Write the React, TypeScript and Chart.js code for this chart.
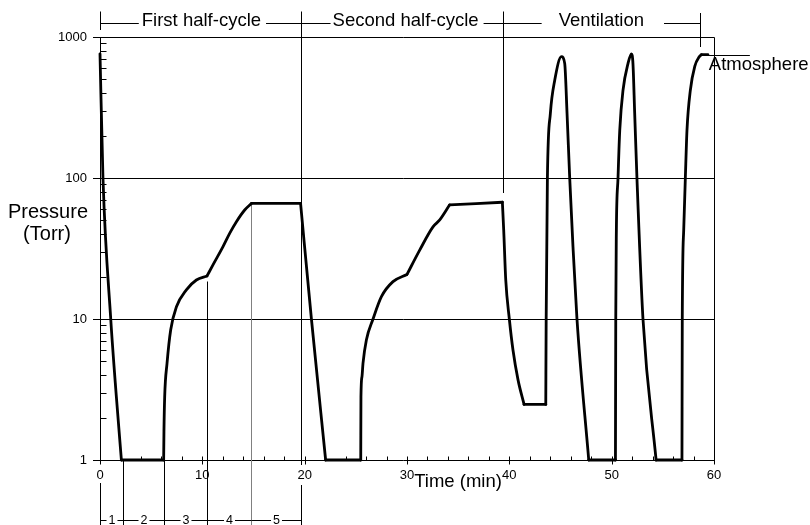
import React, { useEffect, useRef } from 'react';
import { Chart, registerables } from 'chart.js';

Chart.register(...registerables);

// ---- Data ----
const timeMin = [
  0, 0.29, 1.05, 1.6, 2.09,
  6.22, 6.25, 6.32, 6.55, 6.91, 7.47, 8.44, 9.42, 10.46,
  11.04, 12.02, 12.67, 13.33, 14.14, 14.8,
  19.6, 20.66, 22.05,
  25.48, 25.5, 25.6, 25.7, 26.03, 26.68, 27.5, 28.63, 30.0,
  31.24, 32.54, 33.2, 34.17, 39.32,
  39.45, 39.65, 40.0, 40.36, 40.85, 41.44, 43.56,
  43.6, 43.72, 44.01, 44.44, 45.09, 45.41, 45.64, 45.9, 46.22, 46.61, 47.76,
  50.37, 50.4, 50.46, 50.62, 50.79, 51.11, 51.6, 51.93, 52.08, 52.25, 52.47, 53.06, 54.34,
  56.87, 56.9, 57.04, 57.2, 57.36, 57.69, 58.12, 58.54, 58.77, 59.4,
];
const pressureTorr = [
  760, 100, 10, 2.8, 1,
  1, 1.6, 2.8, 4.85, 8.4, 12.2, 16.1, 18.9, 20.2,
  24.2, 32.6, 40.5, 49, 59.3, 66,
  66, 10, 1,
  1, 2.8, 3.9, 4.85, 7.1, 10, 14.4, 18.4, 20.7,
  30.8, 45, 50.4, 64.5, 67.3,
  42.8, 18.9, 10, 6.0, 3.7, 2.48, 2.48,
  10, 100, 287, 495, 725, 650, 287, 100, 32.6, 10, 1,
  1, 10, 42.8, 100, 218, 420, 650, 760, 650, 287, 100, 10, 1,
  1, 10, 42.8, 100, 218, 420, 620, 720, 750, 750,
];
// times where the trace has a sharp corner (the trace is smooth between them)
const cornerTimes = [2.09, 6.22, 10.46, 14.8, 19.6, 22.05, 25.48, 30.0, 34.17, 39.32, 41.44, 43.56, 47.76, 50.37, 54.34, 56.87, 58.77];

const xTicks = [0, 10, 20, 30, 40, 50, 60];
const xMinorStep = 2;
const yDecades = [1, 10, 100, 1000];

// stage annotations (minutes)
const stageLabels = ['First half-cycle', 'Second half-cycle', 'Ventilation'];
const stageBounds = [0, 19.6, 39.4, 58.6];
const stageCenters = [9.91, 29.86, 48.99];
const stageGaps = [[3, 5], [2, 5], [17, 20]];

// first half-cycle steps (minutes)
const stepLabels = ['1', '2', '3', '4', '5'];
const stepBounds = [0, 2.2, 6.3, 10.46, 14.8, 19.6];

const FONT = '"Liberation Sans", Arial, Helvetica, sans-serif';

function seg(ctx: CanvasRenderingContext2D, x1: number, y1: number, x2: number, y2: number) {
  ctx.beginPath();
  ctx.moveTo(x1, y1);
  ctx.lineTo(x2, y2);
  ctx.stroke();
}

function pressureAt(t: number): number {
  for (let i = 0; i < timeMin.length - 1; i++) {
    if (t >= timeMin[i] && t <= timeMin[i + 1]) {
      const span = timeMin[i + 1] - timeMin[i];
      if (span === 0) return pressureTorr[i + 1];
      const f = (t - timeMin[i]) / span;
      const l = Math.log10(pressureTorr[i]) * (1 - f) + Math.log10(pressureTorr[i + 1]) * f;
      return Math.pow(10, l);
    }
  }
  return pressureTorr[pressureTorr.length - 1];
}

function buildPieces() {
  const pieces: { x: number; y: number }[][] = [];
  let cur: { x: number; y: number }[] = [];
  timeMin.forEach((t, i) => {
    const p = { x: t, y: pressureTorr[i] };
    cur.push(p);
    if (cornerTimes.includes(t) && i < timeMin.length - 1) {
      pieces.push(cur);
      cur = [p];
    }
  });
  if (cur.length > 1) pieces.push(cur);
  return pieces;
}

const figurePlugin = {
  id: 'figureAnnotations',
  beforeDatasetsDraw(chart: any) {
    const { ctx, chartArea: a } = chart;
    const xs = chart.scales.x;
    const ys = chart.scales.y;
    const px = (v: number) => Math.round(xs.getPixelForValue(v)) + 0.5;
    const py = (v: number) => Math.round(ys.getPixelForValue(v)) + 0.5;
    const B = py(1);
    ctx.save();
    ctx.strokeStyle = '#000';
    ctx.lineWidth = 1;
    ctx.lineCap = 'butt';
    for (const d of yDecades) seg(ctx, a.left - 7, py(d), px(60), py(d));
    seg(ctx, px(0), py(1000), px(0), B);
    seg(ctx, px(60), py(1000), px(60), B);
    for (let i = 0; i < yDecades.length - 1; i++) {
      for (let m = 2; m <= 9; m++) {
        const v = yDecades[i] * m;
        seg(ctx, px(0), py(v), px(0) + 6, py(v));
      }
    }
    for (let t = 0; t <= 60; t += xMinorStep) {
      const major = xTicks.includes(t);
      seg(ctx, px(t), B - 4, px(t), major ? B + 4 : B);
    }
    seg(ctx, px(stepBounds[0]), 483, px(stepBounds[0]), 525);
    seg(ctx, px(stepBounds[1]), B, px(stepBounds[1]), 525);
    seg(ctx, px(stepBounds[2]), py(pressureAt(stepBounds[2])), px(stepBounds[2]), 525);
    seg(ctx, px(stepBounds[3]), py(pressureAt(stepBounds[3])) + 5, px(stepBounds[3]), 525);
    ctx.strokeStyle = '#808080';
    seg(ctx, px(stepBounds[4]), py(pressureAt(stepBounds[4])), px(stepBounds[4]), 525);
    ctx.strokeStyle = '#000';
    seg(ctx, px(stageBounds[0]), 11.5, px(stageBounds[0]), 30);
    seg(ctx, px(stageBounds[1]), 11.5, px(stageBounds[1]), 465);
    seg(ctx, px(stageBounds[1]), 485, px(stageBounds[1]), 525);
    seg(ctx, px(stageBounds[2]), 11.5, px(stageBounds[2]), 193);
    seg(ctx, px(stageBounds[3]), 13, px(stageBounds[3]), 47);
    ctx.restore();
  },
  afterDraw(chart: any) {
    const { ctx } = chart;
    const xs = chart.scales.x;
    const ys = chart.scales.y;
    const px = (v: number) => Math.round(xs.getPixelForValue(v)) + 0.5;
    ctx.save();
    ctx.fillStyle = '#000';
    ctx.strokeStyle = '#000';
    ctx.lineWidth = 1;
    ctx.font = `18.5px ${FONT}`;
    ctx.textAlign = 'center';
    ctx.textBaseline = 'alphabetic';
    const topY = 23.5;
    stageLabels.forEach((lab, i) => {
      const cx = xs.getPixelForValue(stageCenters[i]);
      const w = ctx.measureText(lab).width;
      ctx.fillText(lab, cx, 26);
      seg(ctx, px(stageBounds[i]), topY, cx - w / 2 - stageGaps[i][0], topY);
      seg(ctx, cx + w / 2 + stageGaps[i][1], topY, px(stageBounds[i + 1]), topY);
    });
    ctx.font = `12.5px ${FONT}`;
    ctx.textBaseline = 'middle';
    const rowY = 520.5;
    stepLabels.forEach((lab, i) => {
      const x1 = px(stepBounds[i]);
      const x2 = px(stepBounds[i + 1]);
      const cx = (x1 + x2) / 2;
      const w = ctx.measureText(lab).width;
      ctx.fillText(lab, cx, rowY);
      seg(ctx, x1, rowY, cx - w / 2 - 2, rowY);
      seg(ctx, cx + w / 2 + 2, rowY, x2, rowY);
    });
    ctx.textBaseline = 'alphabetic';
    ctx.font = `20px ${FONT}`;
    ctx.fillText('Pressure', 48, 218);
    ctx.fillText('(Torr)', 47, 240);
    ctx.font = `18.5px ${FONT}`;
    ctx.fillText('Time (min)', 458, 487);
    const lastT = timeMin[timeMin.length - 1];
    const lastP = pressureTorr[pressureTorr.length - 1];
    const ax = xs.getPixelForValue(lastT);
    const ay = Math.round(ys.getPixelForValue(lastP)) + 0.5;
    seg(ctx, ax, ay, ax + 42, ay);
    ctx.textAlign = 'left';
    ctx.fillText('Atmosphere', ax + 1, 70);
    ctx.restore();
  },
};

export default function App() {
  const canvasRef = useRef<HTMLCanvasElement | null>(null);

  useEffect(() => {
    const canvas = canvasRef.current;
    if (!canvas) return;
    const datasets = buildPieces().map((piece, i) => ({
      label: 'Pressure ' + i,
      data: piece,
      borderColor: '#000',
      borderWidth: 2.8,
      pointRadius: 0,
      cubicInterpolationMode: 'monotone',
      fill: false,
      clip: false,
      borderJoinStyle: 'round',
      borderCapStyle: 'round',
    }));
    const chart = new Chart(canvas, {
      type: 'line',
      data: { datasets: datasets as any },
      options: {
        responsive: false,
        animation: false,
        devicePixelRatio: 1,
        layout: { padding: { left: 0, right: 96, top: 37, bottom: 0 } },
        plugins: {
          legend: { display: false },
          tooltip: { enabled: false },
        },
        scales: {
          x: {
            type: 'linear',
            min: 0,
            max: 60,
            afterFit: (s: any) => {
              s.height = 65;
            },
            grid: { display: false, drawTicks: false },
            border: { display: false },
            ticks: {
              stepSize: 10,
              padding: 8,
              autoSkip: false,
              maxRotation: 0,
              color: '#000',
              font: { family: FONT, size: 13 },
            },
          },
          y: {
            type: 'logarithmic',
            min: 1,
            max: 1000,
            afterFit: (s: any) => {
              s.width = 100;
            },
            grid: { display: false, drawTicks: false },
            border: { display: false },
            ticks: {
              padding: 13,
              autoSkip: false,
              color: '#000',
              font: { family: FONT, size: 13 },
              callback: (v: any) => (yDecades.includes(Number(v)) ? String(v) : ''),
            },
          },
        },
      } as any,
      plugins: [figurePlugin],
    });
    return () => chart.destroy();
  }, []);

  return (
    <div style={{ position: 'absolute', left: 0, top: 0, width: 810, height: 525, background: '#fff' }}>
      <canvas ref={canvasRef} width={810} height={525} style={{ display: 'block' }} />
    </div>
  );
}
